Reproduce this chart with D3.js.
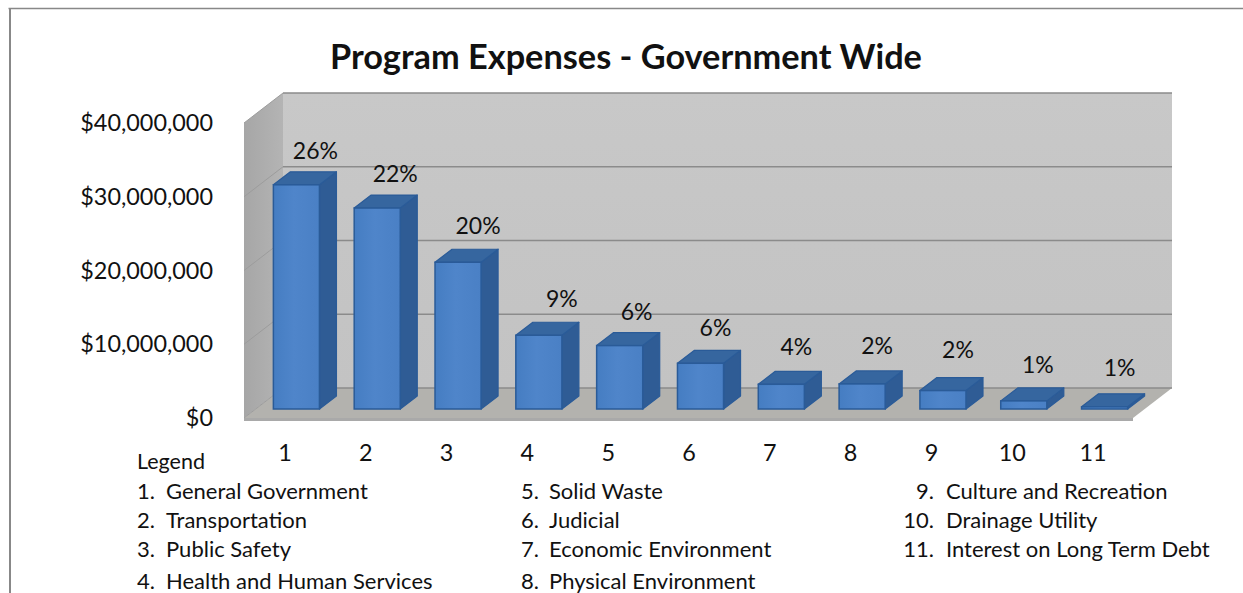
<!DOCTYPE html>
<html>
<head>
<meta charset="utf-8">
<title>Program Expenses - Government Wide</title>
<script src="https://cdn.jsdelivr.net/npm/d3@7/dist/d3.min.js"></script>
<style>
  html, body { margin: 0; padding: 0; background: #fff; overflow: hidden; }
  svg { display: block; }
  text { font-family: Lato, "Open Sans", sans-serif; fill: #111; }
</style>
</head>
<body>
<svg id="chart" width="1243" height="593"></svg>
<script>
const titleText = "Program Expenses - Government Wide";
const categories = ["1", "2", "3", "4", "5", "6", "7", "8", "9", "10", "11"];
const expenses = [30400000, 27250000, 19900000, 10000000, 8600000, 6200000, 3350000, 3400000, 2500000, 1100000, 300000];
const shares = ["26%", "22%", "20%", "9%", "6%", "6%", "4%", "2%", "2%", "1%", "1%"];
const yTicks = [0, 10000000, 20000000, 30000000, 40000000];
const legendHeading = "Legend";
const legendColumnOne = ["General Government", "Transportation", "Public Safety", "Health and Human Services"];
const legendColumnTwo = ["Solid Waste", "Judicial", "Economic Environment", "Physical Environment"];
const legendColumnThree = ["Culture and Recreation", "Drainage Utility", "Interest on Long Term Debt"];

// Hand-placed data label nudges, one per bar, relative to the bar's top
const labelNudgeX = [2, 1, 3, 6, 0, -2, -2, -2, -2, -3, -2];
const labelNudgeY = [1, 1, -1, -1, 1, 0, -2, -3, -6, -1, -4];

const svg = d3.select("#chart");

// Projection of the 3D box: offset of the back wall from the front plane
const depthX = 39, depthY = -30;
// Depth of each column, and how far it sits behind the front plane
const barDepthX = 17, barDepthY = -13;
const barShiftX = 12, barShiftY = -9;

const x = d3.scaleBand().domain(categories).range([244, 1133]).paddingInner(0.43).paddingOuter(0.215);
const y = d3.scaleLinear().domain([0, 40000000]).range([418, 123]);

const defs = svg.append("defs");
function gradient(id, vertical, stops) {
  const g = defs.append("linearGradient").attr("id", id)
    .attr("x1", 0).attr("y1", 0)
    .attr("x2", vertical ? 0 : 1).attr("y2", vertical ? 1 : 0);
  stops.forEach(([o, c]) => g.append("stop").attr("offset", o).attr("stop-color", c));
}
gradient("wallBack", true, [[0, "#c8c8c8"], [0.5, "#c5c5c5"], [1, "#c3c3c3"]]);
gradient("wallSide", false, [[0, "#a6a6a6"], [1, "#b4b4b4"]]);
gradient("barFront", false, [[0, "#457dc2"], [0.45, "#4f85ca"], [1, "#4a80c5"]]);

const line = d3.line();
const poly = pts => line(pts) + "Z";

// Page frame
svg.append("path").attr("d", "M8.5,8.5H1243").attr("stroke", "#888").attr("stroke-width", 1.5).attr("fill", "none");
svg.append("path").attr("d", "M10,8V593").attr("stroke", "#888").attr("stroke-width", 2).attr("fill", "none");

// Title
svg.append("text").attr("x", 626).attr("y", 68.5).attr("text-anchor", "middle")
  .attr("font-size", 34.3).attr("font-weight", 700).text(titleText);

const x0 = x.range()[0], x1 = x.range()[1];
const yBase = y(0), yTop = y(40000000);

// Back wall, side wall and floor
svg.append("path").attr("fill", "url(#wallBack)")
  .attr("d", poly([[x0 + depthX, yTop + depthY], [x1 + depthX, yTop + depthY], [x1 + depthX, yBase + depthY], [x0 + depthX, yBase + depthY]]));
svg.append("path").attr("fill", "url(#wallSide)")
  .attr("d", poly([[x0, yTop], [x0 + depthX, yTop + depthY], [x0 + depthX, yBase + depthY], [x0, yBase]]));
svg.append("path").attr("fill", "#b3b2ae")
  .attr("d", poly([[x0, yBase], [x1, yBase], [x1 + depthX, yBase + depthY], [x0 + depthX, yBase + depthY]]));
svg.append("rect").attr("x", x0).attr("y", yBase).attr("width", x1 - x0).attr("height", 3).attr("fill", "#a9a9a9");

// Gridlines along the back wall and down the side wall
svg.append("g").selectAll("line").data(yTicks).join("line")
  .attr("x1", x0 + depthX).attr("x2", x1 + depthX)
  .attr("y1", d => y(d) + depthY).attr("y2", d => y(d) + depthY)
  .attr("stroke", "#8b8b8b").attr("stroke-width", 1.5);
svg.append("g").selectAll("line").data(yTicks).join("line")
  .attr("x1", x0).attr("x2", x0 + depthX)
  .attr("y1", d => y(d)).attr("y2", d => y(d) + depthY)
  .attr("stroke", "#9c9c9c").attr("stroke-width", 1);

// Axes
const yAxis = svg.append("g").attr("transform", `translate(${x0 - 31},0)`)
  .call(d3.axisLeft(y).tickValues(yTicks).tickSize(0).tickPadding(0).tickFormat(d3.format("$,")));
const xAxis = svg.append("g").attr("transform", "translate(0.5,444)")
  .call(d3.axisBottom(x).tickSize(0).tickPadding(0));
[yAxis, xAxis].forEach(a => {
  a.select(".domain").remove();
  a.selectAll("text").attr("font-size", 23.4).attr("font-family", "Lato");
});

// Columns: front, top and side faces
const bars = svg.append("g").selectAll("g").data(categories).join("g");
const bx = d => x(d) + barShiftX;
const by = (d, i) => y(expenses[i]) + barShiftY;
const by0 = y(0) + barShiftY;
const bw = x.bandwidth();
const barEdge = "#2a5b98";

bars.append("path")
  .attr("fill", "#2f5c95").attr("stroke", barEdge).attr("stroke-width", 1.2).attr("stroke-linejoin", "round")
  .attr("d", (d, i) => poly([[bx(d) + bw, by(d, i)], [bx(d) + bw + barDepthX, by(d, i) + barDepthY], [bx(d) + bw + barDepthX, by0 + barDepthY], [bx(d) + bw, by0]]));
bars.append("path")
  .attr("fill", "#36669f").attr("stroke", barEdge).attr("stroke-width", 1.2).attr("stroke-linejoin", "round")
  .attr("d", (d, i) => poly([[bx(d), by(d, i)], [bx(d) + barDepthX, by(d, i) + barDepthY], [bx(d) + bw + barDepthX, by(d, i) + barDepthY], [bx(d) + bw, by(d, i)]]));
bars.append("rect")
  .attr("x", bx).attr("y", by).attr("width", bw)
  .attr("height", (d, i) => by0 - by(d, i))
  .attr("fill", "url(#barFront)").attr("stroke", barEdge).attr("stroke-width", 1.5);

// Percentage labels above each column
svg.append("g").selectAll("text").data(categories).join("text")
  .attr("x", (d, i) => bx(d) + bw / 2 + 17 + labelNudgeX[i])
  .attr("y", (d, i) => by(d, i) - 27 + labelNudgeY[i])
  .attr("text-anchor", "middle").attr("font-size", 23)
  .text((d, i) => shares[i]);

// Legend below the chart
const legendSize = 22;
svg.append("text").attr("x", 137).attr("y", 469).attr("font-size", 21.5).text(legendHeading);
const rowY = [499, 528, 557, 589];

function legendColumn(items, firstNumber, numberEndX, labelX) {
  const rows = svg.append("g").selectAll("g").data(items).join("g");
  rows.append("text").attr("x", numberEndX).attr("y", (d, i) => rowY[i]).attr("font-size", legendSize)
    .attr("text-anchor", "end").text((d, i) => (firstNumber + i) + ".");
  rows.append("text").attr("x", labelX).attr("y", (d, i) => rowY[i]).attr("font-size", legendSize)
    .text(d => d);
}
legendColumn(legendColumnOne, 1, 155, 166);
legendColumn(legendColumnTwo, 5, 539, 549);
legendColumn(legendColumnThree, 9, 934, 946);
</script>
</body>
</html>
